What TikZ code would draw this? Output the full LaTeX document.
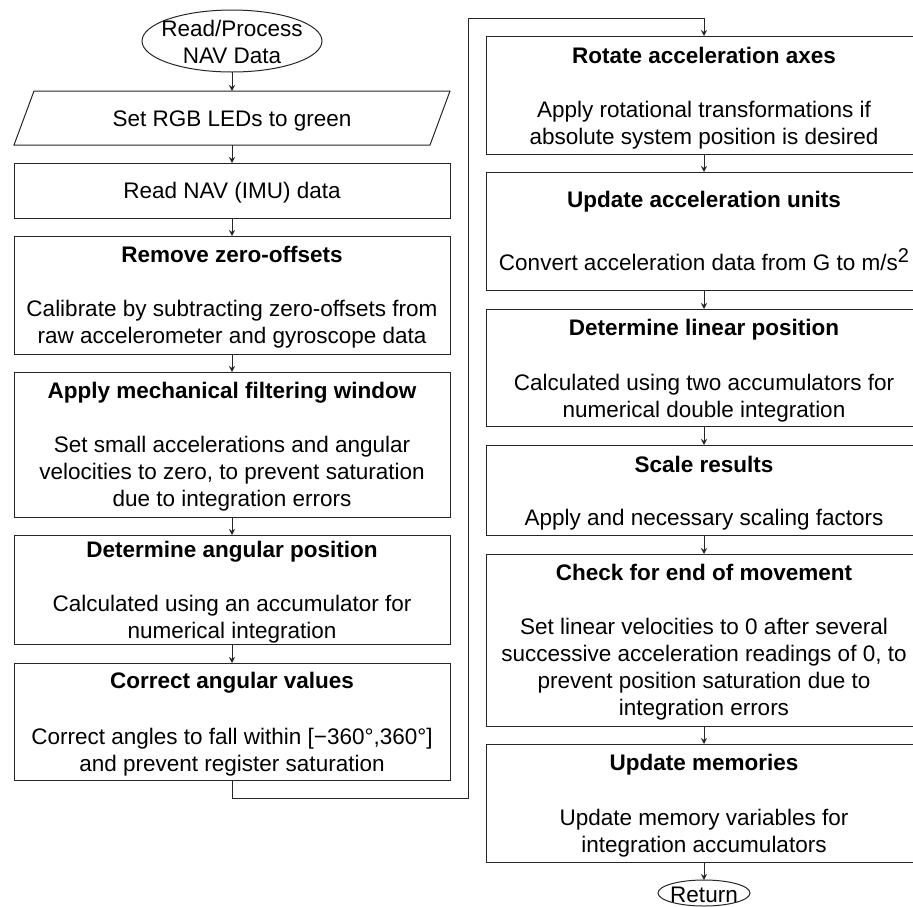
\documentclass[tikz,border=0pt]{standalone}
\usepackage{fontspec}
\setmainfont{Liberation Sans}
\usetikzlibrary{arrows.meta,shapes.geometric}
\begin{document}
\begin{tikzpicture}[x=1pt,y=-1pt,
  every node/.style={font=\fontsize{22.5}{27}\selectfont, text=black},
  box/.style={draw=black!85, line width=1pt, rectangle, minimum width=436pt, inner sep=0pt, outer sep=0pt},
  ttl/.style={anchor=base, inner sep=0pt, font=\fontsize{22.5}{27}\selectfont\bfseries},
  txt/.style={anchor=base, align=center, inner sep=0pt},
  arr/.style={draw=black!85, line width=1pt, -{Stealth[length=6pt,width=6pt]}},
  term/.style={draw=black!85, line width=1pt, ellipse, inner sep=0pt, outer sep=0pt}
]
\useasboundingbox (0,0) rectangle (913,906);
\fill[white] (0,0) rectangle (913,906);
\clip (0,0) rectangle (913,906);

% ---------- left column ----------
\node[term, minimum width=180pt, minimum height=62pt] (start) at (232,41) {};
\node[txt] (startT) at (232,63) {Read/Process\\NAV Data};

\node[inner sep=0pt, outer sep=0pt, minimum width=436pt, minimum height=54pt] (leds) at (232,118) {};
\draw[draw=black!85, line width=1pt] ([xshift=20pt]leds.north west) -- (leds.north east)
  -- ([xshift=-20pt]leds.south east) -- (leds.south west) -- cycle;
\node[txt] (ledsT) at (232,126) {Set RGB LEDs to green};

\node[box, minimum height=55pt] (readnav) at (232,190.5) {};
\node[txt] (readnavT) at (232,198) {Read NAV (IMU) data};

\node[box, minimum height=118pt] (zero) at (232,295) {};
\node[ttl] (zeroT) at (232,262) {Remove zero-offsets};
\node[txt] (zeroB) at (232,343) {Calibrate by subtracting zero-offsets from\\raw accelerometer and gyroscope data};

\node[box, minimum height=145pt] (mech) at (232,444.5) {};
\node[ttl] (mechT) at (232,398) {Apply mechanical filtering window};
\node[txt] (mechB) at (232,506) {Set small accelerations and angular\\velocities to zero, to prevent saturation\\due to integration errors};

\node[box, minimum height=109pt] (angpos) at (232,589.5) {};
\node[ttl] (angposT) at (232,557) {Determine angular position};
\node[txt] (angposB) at (232,638) {Calculated using an accumulator for\\numerical integration};

\node[box, minimum height=117pt] (corr) at (232,721.5) {};
\node[ttl] (corrT) at (232,688) {Correct angular values};
\node[txt] (corrB) at (232,771) {Correct angles to fall within [−360°,360°]\\and prevent register saturation};

% ---------- right column ----------
\node[box, minimum height=118pt] (rot) at (704,95) {};
\node[ttl] (rotT) at (704,63) {Rotate acceleration axes};
\node[txt] (rotB) at (704,144) {Apply rotational transformations if\\absolute system position is desired};

\node[box, minimum height=118pt] (units) at (704,231) {};
\node[ttl] (unitsT) at (704,207) {Update acceleration units};
\node[txt] (unitsB) at (704,270) {Convert acceleration data from G to m/s\raisebox{8pt}{\fontsize{20}{20}\selectfont 2}};

\node[box, minimum height=117pt] (lin) at (704,367.5) {};
\node[ttl] (linT) at (704,335) {Determine linear position};
\node[txt] (linB) at (704,417) {Calculated using two accumulators for\\numerical double integration};

\node[box, minimum height=90pt] (scale) at (704,490) {};
\node[ttl] (scaleT) at (704,472) {Scale results};
\node[txt] (scaleB) at (704,525) {Apply and necessary scaling factors};

\node[box, minimum height=172pt] (check) at (704,640) {};
\node[ttl] (checkT) at (704,580) {Check for end of movement};
\node[txt] (checkB) at (704,715) {Set linear velocities to 0 after several\\successive acceleration readings of 0, to\\prevent position saturation due to\\integration errors};

\node[box, minimum height=118pt] (mem) at (704,803) {};
\node[ttl] (memT) at (704,770) {Update memories};
\node[txt] (memB) at (704,852) {Update memory variables for\\integration accumulators};

\node[term, minimum width=92pt, minimum height=26pt] (ret) at (704,893) {};
\node[txt] (retT) at (704,902) {Return};

% ---------- connectors ----------
\draw[arr] (start.south) -- (leds.north);
\draw[arr] (leds.south) -- (readnav.north);
\draw[arr] (readnav.south) -- (zero.north);
\draw[arr] (zero.south) -- (mech.north);
\draw[arr] (mech.south) -- (angpos.north);
\draw[arr] (angpos.south) -- (corr.north);
\coordinate (j1) at (232,798);
\coordinate (j2) at (468,798);
\coordinate (j3) at (468,18);
\coordinate (j4) at (704,18);
\draw[arr] (corr.south) -- (j1) -- (j2) -- (j3) -- (j4) -- (rot.north);
\draw[arr] (rot.south) -- (units.north);
\draw[arr] (units.south) -- (lin.north);
\draw[arr] (lin.south) -- (scale.north);
\draw[arr] (scale.south) -- (check.north);
\draw[arr] (check.south) -- (mem.north);
\draw[arr] (mem.south) -- (ret.north);
\end{tikzpicture}
\end{document}
